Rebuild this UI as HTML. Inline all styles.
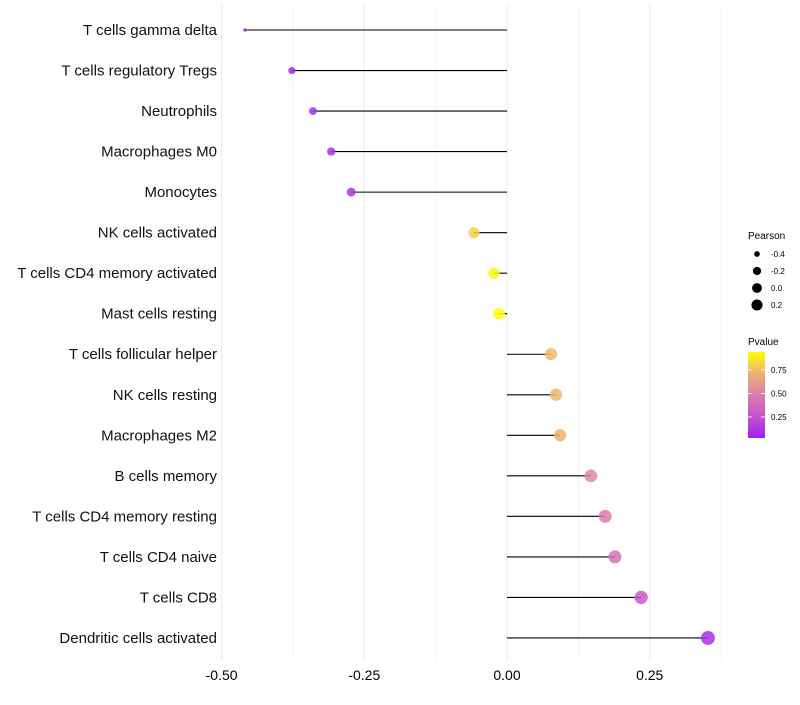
<!DOCTYPE html>
<html><head><meta charset="utf-8"><style>
body{margin:0;background:#fff;font-family:"Liberation Sans",sans-serif}
</style></head><body>
<svg id="c" width="800" height="700" xmlns="http://www.w3.org/2000/svg">
<defs><linearGradient id="pg" x1="0" y1="1" x2="0" y2="0">
<stop offset="0" stop-color="#A020F0"/><stop offset="0.25" stop-color="#C254D0"/><stop offset="0.5" stop-color="#DA80A8"/><stop offset="0.75" stop-color="#EEB07A"/><stop offset="1" stop-color="#FFFF00"/></linearGradient></defs>
</svg>
<script>
const cells=["T cells gamma delta","T cells regulatory  Tregs","Neutrophils","Macrophages M0","Monocytes","NK cells activated","T cells CD4 memory activated","Mast cells resting","T cells follicular helper","NK cells resting","Macrophages M2","B cells memory","T cells CD4 memory resting","T cells CD4 naive","T cells CD8","Dendritic cells activated"];
const pearson=[-0.459,-0.377,-0.34,-0.308,-0.273,-0.058,-0.023,-0.014,0.077,0.086,0.093,0.147,0.172,0.189,0.235,0.352];
const pvalue=[0.05,0.06,0.07,0.07,0.1,0.85,0.97,1.0,0.78,0.77,0.76,0.55,0.48,0.42,0.3,0.08];
const xTicks=[-0.5,-0.25,0,0.25];
const xTickLabels=["-0.50","-0.25","0.00","0.25"];
const sizeLegend=[-0.4,-0.2,0.0,0.2];
const pTicks=[0.25,0.5,0.75];
const svg=document.getElementById('c');const NS='http://www.w3.org/2000/svg';
const X=v=>507+v*570.8;
const Y=i=>30+i*40.53;
const R=v=>1.7+5.3*Math.pow(Math.max(0,v+0.459)/0.81,0.45);
const stops=[[0,[160,32,240]],[0.25,[194,84,208]],[0.5,[218,128,168]],[0.75,[238,176,122]],[1,[255,255,0]]];
function col(p){p=Math.max(0,Math.min(1,p));for(let i=1;i<stops.length;i++){if(p<=stops[i][0]){const a=stops[i-1],b=stops[i],t=(p-a[0])/(b[0]-a[0]);return 'rgb('+a[1].map((c,k)=>Math.round(c+(b[1][k]-c)*t)).join(',')+')';}}}
function el(t,a,txt){const e=document.createElementNS(NS,t);for(const k in a)e.setAttribute(k,a[k]);if(txt!==undefined)e.textContent=txt;svg.appendChild(e);return e;}
for(let v=-0.5;v<=0.375;v+=0.125){const g=el('line',{x1:X(v),x2:X(v),y1:5,y2:660,stroke:'#ebebeb','stroke-width':Math.abs((v*4)%1)<1e-6?1.1:0.6});

}
xTicks.forEach((v,i)=>{const t=el('text',{x:X(v),y:680,'text-anchor':'middle','font-size':14,fill:'#000'},xTickLabels[i]);

});
cells.forEach((c,i)=>{
const t=el('text',{x:217,y:Y(i)+5,'text-anchor':'end','font-size':15,fill:'#111'},c);


const s=el('line',{x1:X(0),x2:X(pearson[i]),y1:Y(i),y2:Y(i),stroke:'#000','stroke-width':1.1});


const d=el('circle',{cx:X(pearson[i]),cy:Y(i),r:R(pearson[i]),fill:col(pvalue[i]),'fill-opacity':0.85});


});
let lt=el('text',{x:748,y:239,'font-size':10},'Pearson');


sizeLegend.forEach((v,i)=>{const y=254+i*17;
const c=el('circle',{cx:757,cy:y,r:R(v)*0.85,fill:'#000'});


const t=el('text',{x:771,y:y+3,'font-size':8},v.toFixed(1));

});
let pt=el('text',{x:748,y:345,'font-size':10},'Pvalue');


const bar=el('rect',{x:748,y:352,width:17,height:86,fill:'url(#pg)'});


const PY=p=>437-(p-0.037)/(0.94-0.037)*85;
pTicks.forEach(p=>{const y=PY(p);
el('line',{x1:748,x2:752,y1:y,y2:y,stroke:'#fff','stroke-width':0.8});
el('line',{x1:761,x2:765,y1:y,y2:y,stroke:'#fff','stroke-width':0.8});
const t=el('text',{x:771,y:y+3,'font-size':8},p.toFixed(2));

});
</script>
</body></html>
